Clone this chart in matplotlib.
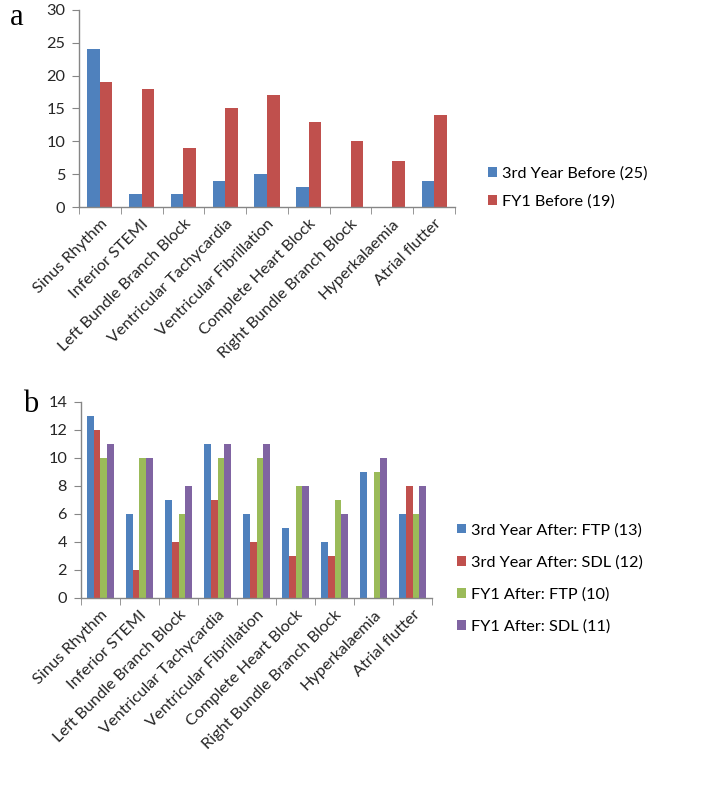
import matplotlib
matplotlib.use("Agg")
import matplotlib.pyplot as plt
import numpy as np

categories = ["Sinus Rhythm", "Inferior STEMI", "Left Bundle Branch Block",
              "Ventricular Tachycardia", "Ventricular Fibrillation",
              "Complete Heart Block", "Right Bundle Branch Block",
              "Hyperkalaemia", "Atrial flutter"]

a_labels = ["3rd Year Before (25)", "FY1 Before (19)"]
a_third_before = [24, 2, 2, 4, 5, 3, 0, 0, 4]
a_fy1_before = [19, 18, 9, 15, 17, 13, 10, 7, 14]

b_labels = ["3rd Year After: FTP (13)", "3rd Year After: SDL (12)",
            "FY1 After: FTP (10)", "FY1 After: SDL (11)"]
b_third_ftp = [13, 6, 7, 11, 6, 5, 4, 9, 6]
b_third_sdl = [12, 2, 4, 7, 4, 3, 3, 0, 8]
b_fy1_ftp = [10, 10, 6, 10, 10, 8, 7, 9, 6]
b_fy1_sdl = [11, 10, 8, 11, 11, 8, 6, 10, 8]

colors = ["#4F81BD", "#C0504D", "#9BBB59", "#8064A2"]

plt.rcParams['font.family'] = ['Lato', 'DejaVu Sans']
FS = 11.7

fig = plt.figure(figsize=(7.08, 7.91), dpi=100)

def style_ax(ax, ymax, ystep):
    for s in ["top", "right"]:
        ax.spines[s].set_visible(False)
    for s in ["left", "bottom"]:
        ax.spines[s].set_color("#868686")
        ax.spines[s].set_linewidth(1.0)
    n = len(categories)
    ax.set_xlim(0, n)
    ax.set_ylim(0, ymax)
    ax.set_yticks(np.arange(0, ymax + 0.1, ystep))
    ax.tick_params(axis="y", length=5, color="#868686", labelsize=FS, pad=5, labelcolor="#262626")
    ax.set_xticks(np.arange(0, n + 1), minor=True)
    ax.set_xticks(np.arange(n) + 0.5)
    ax.set_xticklabels(categories, rotation=45, ha="right", rotation_mode="anchor",
                       fontsize=FS, color="#262626")
    ax.tick_params(axis="x", which="major", length=0, pad=7)
    ax.tick_params(axis="x", which="minor", length=5, color="#868686")

# Panel a
axa = fig.add_axes([0.1116, 0.7383, 0.5311, 0.2491])
x = np.arange(len(categories)) + 0.5
w = 0.3
series_a = [a_third_before, a_fy1_before]
handles = []
for i, vals in enumerate(series_a):
    h = axa.bar(x + (i - 0.5) * w, vals, width=w, color=colors[i], label=a_labels[i])
    handles.append(h)
style_ax(axa, 30, 5)
axa.legend(handles=handles, loc="center left", bbox_to_anchor=(1.05, 0.10), frameon=False,
           fontsize=FS, handlelength=0.55, handleheight=0.55, handletextpad=0.3,
           labelspacing=0.85)
fig.text(0.014, 0.978, "a", fontsize=22, family="Liberation Serif", va="center")

# Panel b
axb = fig.add_axes([0.1144, 0.244, 0.4958, 0.2478])
w = 0.175
series_b = [b_third_ftp, b_third_sdl, b_fy1_ftp, b_fy1_sdl]
handles = []
for i, vals in enumerate(series_b):
    h = axb.bar(x + (i - 1.5) * w, vals, width=w, color=colors[i], label=b_labels[i])
    handles.append(h)
style_ax(axb, 14, 2)
axb.legend(handles=handles, loc="center left", bbox_to_anchor=(1.03, 0.10), frameon=False,
           fontsize=FS, handlelength=0.55, handleheight=0.55, handletextpad=0.3,
           labelspacing=1.1)
fig.text(0.033, 0.488, "b", fontsize=22, family="Liberation Serif", va="center")

fig.savefig("out.png", dpi=100, facecolor="white")
